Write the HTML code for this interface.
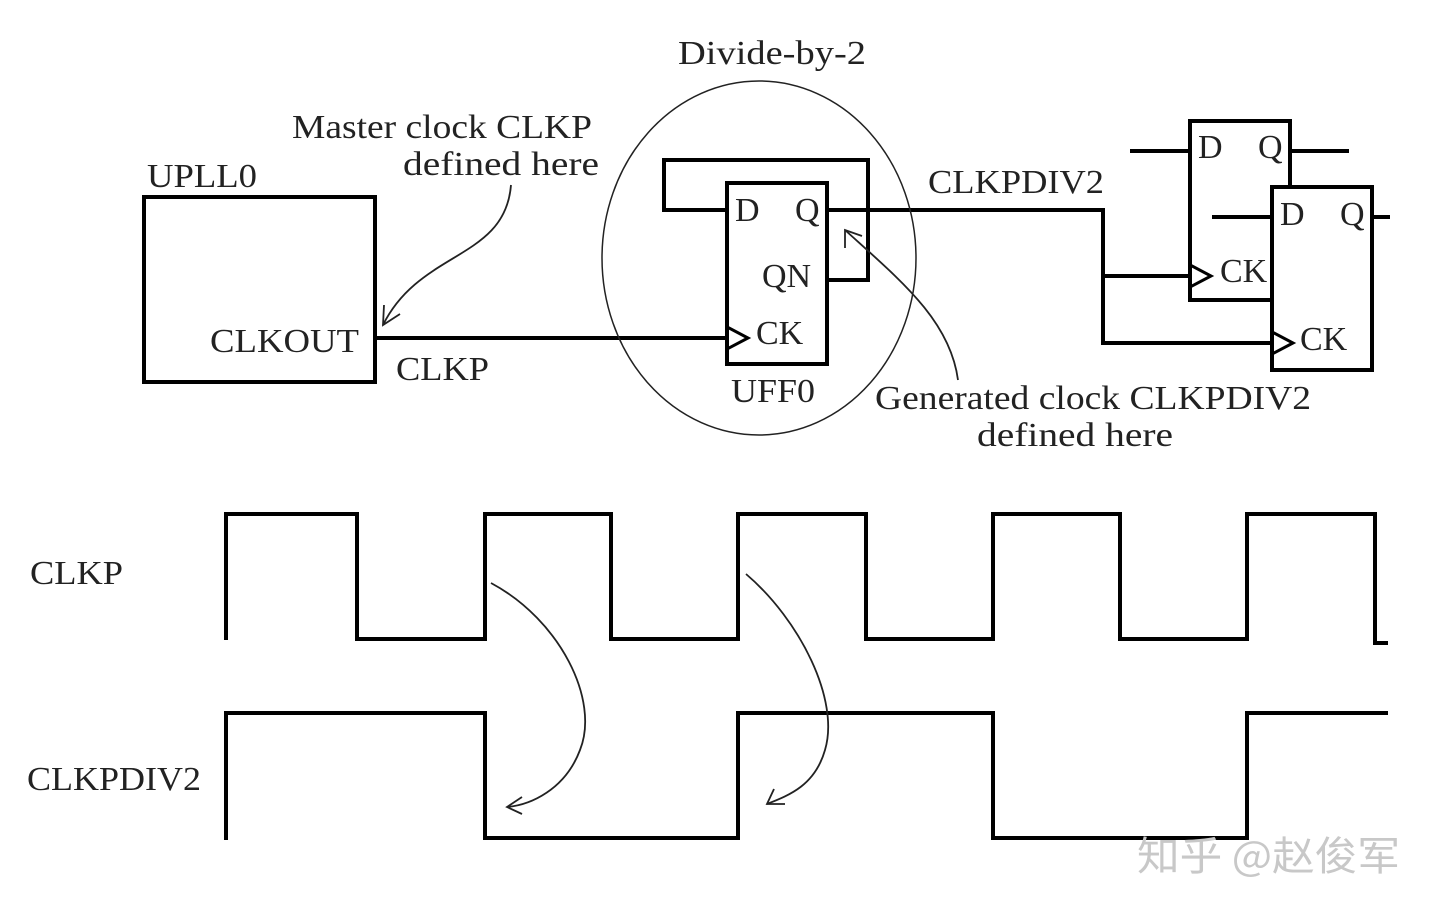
<!DOCTYPE html>
<html><head><meta charset="utf-8"><style>
html,body{margin:0;padding:0;background:#fff;width:1440px;height:912px;overflow:hidden}
text{font-family:"Liberation Serif",serif;fill:#222}
</style></head><body>
<svg width="1440" height="912" viewBox="0 0 1440 912" xmlns="http://www.w3.org/2000/svg">
<g fill="none" stroke="#000" stroke-width="4" stroke-linecap="square">
<rect x="144" y="197" width="231" height="185"/>
<line x1="375" y1="338" x2="727" y2="338"/>
<rect x="727" y="183" width="100" height="181"/>
<polyline points="727,210 664,210 664,160 868,160 868,280 827,280"/>
<polyline points="827,210 1103,210 1103,343 1272,343"/>
<line x1="1103" y1="276" x2="1190" y2="276"/>
<rect x="1190" y="121" width="100" height="179"/>
<rect x="1272" y="187" width="100" height="183" fill="#fff"/>
<line x1="1132" y1="151" x2="1190" y2="151"/>
<line x1="1290" y1="151" x2="1347" y2="151"/>
<line x1="1214" y1="217" x2="1272" y2="217"/>
<line x1="1372" y1="217" x2="1388" y2="217"/>
<polyline points="729,328 748,338 729,348" stroke-width="3"/>
<polyline points="1192,266 1211,276 1192,286" stroke-width="3"/>
<polyline points="1274,333 1293,343 1274,353" stroke-width="3"/>
<polyline points="226,640 226,514 357,514 357,639 485,639 485,514 611,514 611,639 738,639 738,514 866,514 866,639 993,639 993,514 1120,514 1120,639 1247,639 1247,514 1375,514 1375,643 1388,643" stroke-linecap="butt"/>
<polyline points="226,840 226,713 485,713 485,838 738,838 738,713 993,713 993,838 1247,838 1247,713 1388,713" stroke-linecap="butt"/>
</g>
<ellipse cx="759" cy="258" rx="157" ry="177" fill="none" stroke="#222" stroke-width="1.5"/>
<g fill="none" stroke="#222" stroke-width="1.8">
<path d="M511,185 C505,260 420,250 383,325"/>
<polyline points="384,305 383,325 400,314"/>
<path d="M958,380 C950,320 900,280 845,230"/>
<polyline points="845,248 845,230 862,236"/>
<path d="M491,583 C560,620 600,700 580,750 C565,790 530,805 507,807"/>
<polyline points="522,797 507,807 522,814"/>
<path d="M746,574 C800,620 840,700 825,750 C815,785 790,795 767,804"/>
<polyline points="774,789 767,804 785,804"/>
</g>
<g font-size="34">
<text x="678" y="64" textLength="188" lengthAdjust="spacingAndGlyphs">Divide-by-2</text>
<text x="292" y="138" textLength="300" lengthAdjust="spacingAndGlyphs">Master clock CLKP</text>
<text x="403" y="175" textLength="196" lengthAdjust="spacingAndGlyphs">defined here</text>
<text x="147" y="187" textLength="110" lengthAdjust="spacingAndGlyphs">UPLL0</text>
<text x="210" y="352" textLength="149" lengthAdjust="spacingAndGlyphs">CLKOUT</text>
<text x="396" y="380" textLength="93" lengthAdjust="spacingAndGlyphs">CLKP</text>
<text x="735" y="221">D</text>
<text x="795" y="221">Q</text>
<text x="762" y="287">QN</text>
<text x="756" y="344">CK</text>
<text x="731" y="402" textLength="84" lengthAdjust="spacingAndGlyphs">UFF0</text>
<text x="928" y="193" textLength="176" lengthAdjust="spacingAndGlyphs">CLKPDIV2</text>
<text x="1198" y="158">D</text>
<text x="1258" y="158">Q</text>
<text x="1220" y="282">CK</text>
<text x="1280" y="225">D</text>
<text x="1340" y="225">Q</text>
<text x="1300" y="350">CK</text>
<text x="875" y="409" textLength="436" lengthAdjust="spacingAndGlyphs">Generated clock CLKPDIV2</text>
<text x="977" y="446" textLength="196" lengthAdjust="spacingAndGlyphs">defined here</text>
<text x="30" y="584" textLength="93" lengthAdjust="spacingAndGlyphs">CLKP</text>
<text x="27" y="790" textLength="174" lengthAdjust="spacingAndGlyphs">CLKPDIV2</text>
</g>
<text x="1137" y="870" font-size="40" style="font-family:'Noto Sans CJK SC',sans-serif;fill:#c8c8c8" textLength="263" lengthAdjust="spacingAndGlyphs">知乎 @赵俊军</text>
</svg>
</body></html>
